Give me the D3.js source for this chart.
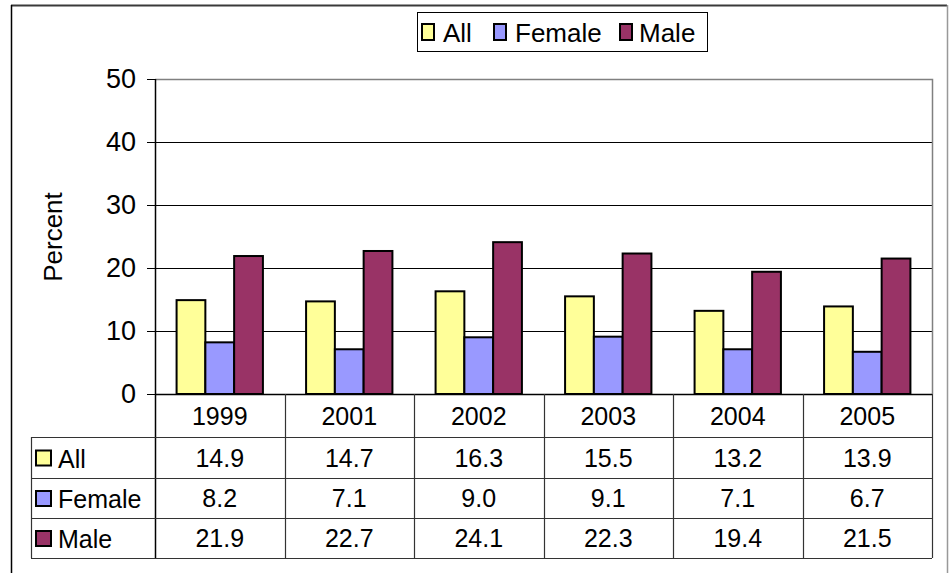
<!DOCTYPE html>
<html>
<head>
<meta charset="utf-8">
<script src="https://cdn.jsdelivr.net/npm/d3@7"></script>
<style>
  html, body { margin: 0; padding: 0; background: #fff; }
  svg { display: block; font-family: "Liberation Sans", Arial, sans-serif; }
</style>
</head>
<body>
<svg id="chart" width="950" height="573"></svg>
<script>
// Survey results by year
const years = ["1999", "2001", "2002", "2003", "2004", "2005"];
const seriesNames = ["All", "Female", "Male"];
const allValues = [14.9, 14.7, 16.3, 15.5, 13.2, 13.9];
const femaleValues = [8.2, 7.1, 9.0, 9.1, 7.1, 6.7];
const maleValues = [21.9, 22.7, 24.1, 22.3, 19.4, 21.5];
const seriesColors = ["#FFFF99", "#9999FF", "#993366"];
const yTicks = [0, 10, 20, 30, 40, 50];
const yTitle = "Percent";

const series = seriesNames.map((name, i) => ({
  name,
  color: seriesColors[i],
  values: [allValues, femaleValues, maleValues][i]
}));

const svg = d3.select("#chart");
const tableFont = 25;
const tickFont = 27;

// Plot geometry
const plotLeft = 155, plotRight = 932, plotTop = 79, plotBottom = 394;
const tableLeft = 31;
const rowEdges = [394, 437, 478, 518, 558];

const x = d3.scaleBand().domain(years).range([plotLeft, plotRight]).padding(0);
const xInner = d3.scaleBand().domain(seriesNames).range([0, x.bandwidth()])
  .paddingInner(0).paddingOuter(0.75);
const y = d3.scaleLinear().domain([0, 50]).range([plotBottom, plotTop]);

// Outer frame
svg.append("line").attr("x1", 11).attr("x2", 947).attr("y1", 5.5).attr("y2", 5.5)
  .attr("stroke", "#3a3a3a").attr("stroke-width", 2);
svg.append("line").attr("x1", 11.5).attr("x2", 11.5).attr("y1", 5).attr("y2", 573)
  .attr("stroke", "#000").attr("stroke-width", 1.5);
svg.append("line").attr("x1", 947.5).attr("x2", 947.5).attr("y1", 5).attr("y2", 573)
  .attr("stroke", "#999").attr("stroke-width", 1.5);

// Gridlines
svg.append("g").selectAll("line").data(yTicks.filter(t => t > 0 && t < 50)).join("line")
  .attr("x1", plotLeft).attr("x2", plotRight)
  .attr("y1", d => Math.round(y(d)) + 0.5).attr("y2", d => Math.round(y(d)) + 0.5)
  .attr("stroke", "#000").attr("stroke-width", 1);

// Plot area border (top and right)
svg.append("path")
  .attr("d", `M${plotLeft},${plotTop + 0.5}H${plotRight + 0.5}V${plotBottom}`)
  .attr("fill", "none").attr("stroke", "#808080").attr("stroke-width", 1.5);

// Bars
const groups = svg.append("g").selectAll("g").data(years).join("g")
  .attr("transform", d => `translate(${x(d)},0)`);
groups.selectAll("rect")
  .data((d, i) => series.map(s => ({ name: s.name, color: s.color, value: s.values[i] })))
  .join("rect")
  .attr("x", d => xInner(d.name))
  .attr("width", xInner.bandwidth())
  .attr("y", d => y(d.value))
  .attr("height", d => y(0) - y(d.value))
  .attr("fill", d => d.color)
  .attr("stroke", "#000").attr("stroke-width", 2);

// Y axis
const yAxis = d3.axisLeft(y).tickValues(yTicks).tickSize(8).tickPadding(11);
const yg = svg.append("g").attr("transform", `translate(${plotLeft},0)`).call(yAxis);
yg.select(".domain").remove();
yg.selectAll(".tick line").attr("stroke", "#000");
yg.selectAll(".tick text").attr("font-size", tickFont).attr("fill", "#000")
  .attr("font-family", "Liberation Sans, Arial, sans-serif");
svg.append("line").attr("x1", plotLeft + 0.5).attr("x2", plotLeft + 0.5)
  .attr("y1", plotTop).attr("y2", rowEdges[rowEdges.length - 1])
  .attr("stroke", "#000").attr("stroke-width", 1.5);

// Y title
svg.append("text")
  .attr("transform", `translate(62,237) rotate(-90)`)
  .attr("text-anchor", "middle")
  .attr("font-size", 26)
  .text(yTitle);

// Data table
const table = svg.append("g");
// x axis / top of table
table.append("line").attr("x1", plotLeft).attr("x2", plotRight).attr("y1", plotBottom + 0.5).attr("y2", plotBottom + 0.5)
  .attr("stroke", "#000").attr("stroke-width", 1.5);
// horizontal row lines
table.selectAll("line.row").data(rowEdges.slice(1)).join("line").attr("class", "row")
  .attr("x1", tableLeft).attr("x2", plotRight)
  .attr("y1", d => d + 0.5).attr("y2", d => d + 0.5)
  .attr("stroke", "#333").attr("stroke-width", 1.2);
// vertical column lines
table.selectAll("line.col").data(years.slice(1).map(d => x(d)).concat([plotRight])).join("line").attr("class", "col")
  .attr("x1", d => Math.round(d) + 0.5).attr("x2", d => Math.round(d) + 0.5)
  .attr("y1", plotBottom).attr("y2", rowEdges[rowEdges.length - 1])
  .attr("stroke", "#333").attr("stroke-width", 1.2);
table.append("line").attr("x1", tableLeft + 0.5).attr("x2", tableLeft + 0.5)
  .attr("y1", rowEdges[1]).attr("y2", rowEdges[rowEdges.length - 1])
  .attr("stroke", "#333").attr("stroke-width", 1.2);

// year labels
table.selectAll("text.year").data(years).join("text").attr("class", "year")
  .attr("x", d => x(d) + x.bandwidth() / 2)
  .attr("y", (rowEdges[0] + rowEdges[1]) / 2)
  .attr("dy", "0.36em")
  .attr("text-anchor", "middle")
  .attr("font-size", tableFont)
  .text(d => d);

// value rows
series.forEach((s, si) => {
  const yc = (rowEdges[si + 1] + rowEdges[si + 2]) / 2;
  table.append("rect")
    .attr("x", 36).attr("y", yc - 7).attr("width", 15).attr("height", 15)
    .attr("fill", s.color).attr("stroke", "#000").attr("stroke-width", 2);
  table.append("text")
    .attr("x", 58).attr("y", yc + 1).attr("dy", "0.36em")
    .attr("font-size", tableFont)
    .text(s.name);
  table.selectAll(null).data(s.values).join("text")
    .attr("x", (d, i) => x(years[i]) + x.bandwidth() / 2)
    .attr("y", yc).attr("dy", "0.36em")
    .attr("text-anchor", "middle")
    .attr("font-size", tableFont)
    .text(d => d.toFixed(1));
});

// Legend
const legend = svg.append("g");
legend.append("rect").attr("x", 417.5).attr("y", 12.5).attr("width", 290).attr("height", 39)
  .attr("fill", "#fff").attr("stroke", "#000").attr("stroke-width", 1);
const swatchX = [422, 494, 620];
const labelX = [443, 515, 639];
series.forEach((s, i) => {
  legend.append("rect")
    .attr("x", swatchX[i]).attr("y", 24).attr("width", 12).attr("height", 16)
    .attr("fill", s.color).attr("stroke", "#000").attr("stroke-width", 2);
  legend.append("text")
    .attr("x", labelX[i]).attr("y", 32.5).attr("dy", "0.36em")
    .attr("font-size", 26)
    .attr("textLength", null)
    .text(s.name);
});
</script>
</body>
</html>
